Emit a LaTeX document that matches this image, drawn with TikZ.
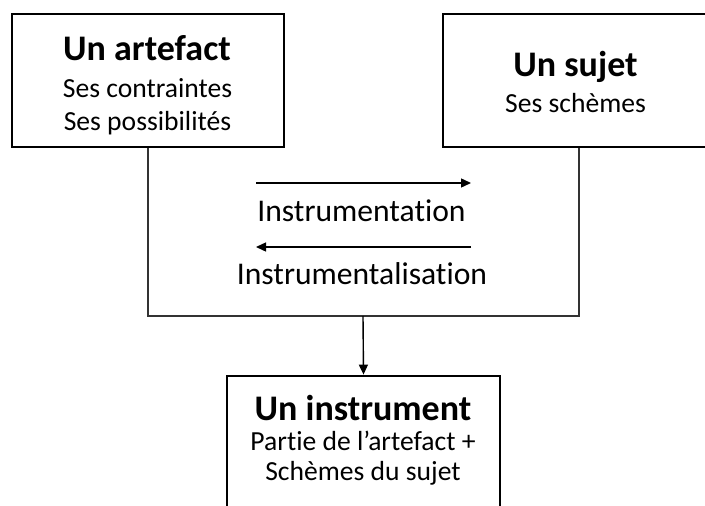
\documentclass[tikz,border=0pt]{standalone}
\usepackage{fontspec}
\setmainfont{Carlito}[Ligatures={NoCommon}]
\usetikzlibrary{arrows.meta}
\tikzset{
  bigbox/.style={draw=black, line width=2.8pt, inner sep=0pt},
  ttl/.style={anchor=base, inner sep=0pt, font=\fontsize{36}{40}\selectfont\bfseries},
  body/.style={anchor=base, inner sep=0pt, font=\fontsize{27.6}{30}\selectfont},
  mid/.style={anchor=base, inner sep=0pt, font=\fontsize{31.6}{34}\selectfont},
  frame/.style={draw=black!80, line width=1.2pt},
  arr/.style={draw=black, line width=1.4pt, -{Triangle[length=10pt,width=9pt]}}
}
\begin{document}
\begin{tikzpicture}[x=1pt,y=-1pt]
\useasboundingbox (0,0) rectangle (705,506);
\clip (0,0) rectangle (705,506);
% boxes
\node[bigbox, minimum width=272pt, minimum height=133pt] (A) at (148,80.5) {};
\node[bigbox, minimum width=272pt, minimum height=133pt] (B) at (579,80.5) {};
\node[bigbox, minimum width=273pt, minimum height=160pt] (C) at (363.5,456) {};
% texts
\node[ttl] (At) at (147,60) {Un artefact};
\node[body] (Al1) at (147.5,97.5) {Ses contraintes};
\node[body] (Al2) at (147.5,130) {Ses possibilités};
\node[ttl] (Bt) at (575.5,76) {Un sujet};
\node[body] (Bl1) at (575.5,112) {Ses schèmes};
\node[ttl] (Ct) at (363,420) {Un instrument};
\node[body] (Cl1) at (363,450) {Partie de l’artefact +};
\node[body] (Cl2) at (363,480) {Schèmes du sujet};
\node[mid] (M1) at (361.5,221) {Instrumentation};
\node[mid] (M2) at (362,284) {Instrumentalisation};
% frame and connectors
\coordinate (fb) at (363,316);
\draw[frame] (A.south) |- (fb) -| (B.south);
\draw[arr] (fb) -- (C.north);
\coordinate (r1) at (256,183);
\coordinate (r2) at (471,183);
\coordinate (l1) at (471,247);
\coordinate (l2) at (256,247);
\draw[arr] (r1) -- (r2);
\draw[arr] (l1) -- (l2);
\end{tikzpicture}
\end{document}
